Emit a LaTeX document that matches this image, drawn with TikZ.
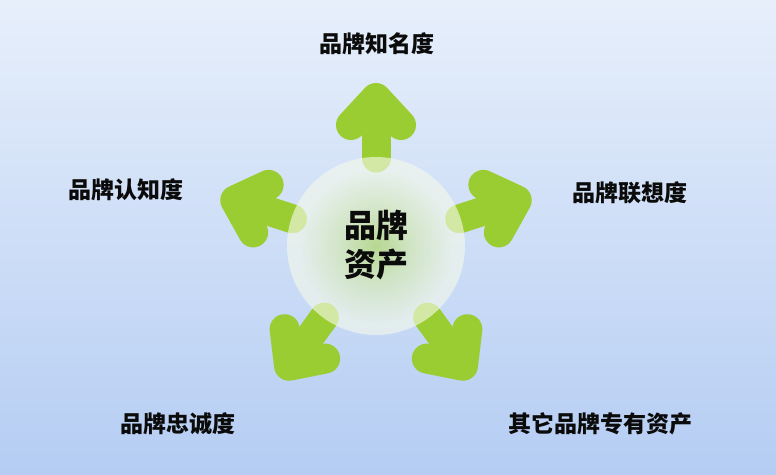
\documentclass[tikz,border=0pt]{standalone}
\usepackage{fontspec}
\newfontfamily\cjk{Noto Sans CJK SC}
\usetikzlibrary{positioning,calc}
\definecolor{cGreen}{HTML}{9ACD32}
\definecolor{cInk}{HTML}{0B0B0B}
\definecolor{cSkyTop}{HTML}{E7EFFB}
\definecolor{cSkyBot}{HTML}{B5CDF3}
\pgfdeclareradialshading{hubglow}{\pgfpoint{0bp}{0bp}}{%
  color(0bp)=(cGreen!85!white); color(9bp)=(cGreen!45!white);
  color(22bp)=(white!90!cGreen); color(50bp)=(white!90!cGreen)}
\tikzset{
  lbl/.style={font=\cjk\bfseries\fontsize{23}{27}\selectfont, text=cInk,
    inner sep=0pt},
  hublbl/.style={font=\cjk\bfseries\fontsize{32}{39}\selectfont, text=cInk,
    align=center, inner sep=0pt},
  shaft/.style={draw=cGreen, line width=29pt, line cap=round},
  tip/.style={draw=cGreen, line width=30pt, line cap=round, line join=round},
  pics/bigarrow/.style={code={
    \draw[shaft] (88,0) -- (138,0);
    \fill[cGreen] (148,0) -- (121,25) -- (121,-25) -- cycle;
    \draw[tip] (121,25) -- (148,0) -- (121,-25);
  }},
}
\begin{document}
\begin{tikzpicture}[x=1pt, y=1pt]
% sky
\shade[top color=cSkyTop, bottom color=cSkyBot] (0,0) rectangle (776,474);
\useasboundingbox (0,0) rectangle (776,474);
\coordinate (hub) at (376,228);
% arrows
\pic[rotate=90] at (hub) {bigarrow};
\pic[rotate=18] at (hub) {bigarrow};
\pic[rotate=-54] at (hub) {bigarrow};
\pic[rotate=-126] at (hub) {bigarrow};
\pic[rotate=162] at (hub) {bigarrow};
% glow disc over the arrow tails
\shade[shading=hubglow, opacity=0.62] (hub) circle (89);
\node[hublbl] (core) at ($(hub)+(0,1)$) {品牌\\资产};
% labels
\node[lbl] (aware) at (377,430) {品牌知名度};
\node[lbl] (assoc) at (630,281) {品牌联想度};
\node[lbl] (other) at (600,50) {其它品牌专有资产};
\node[lbl] (loyal) at (178,50) {品牌忠诚度};
\node[lbl] (known) at (126,284) {品牌认知度};
\end{tikzpicture}
\end{document}
